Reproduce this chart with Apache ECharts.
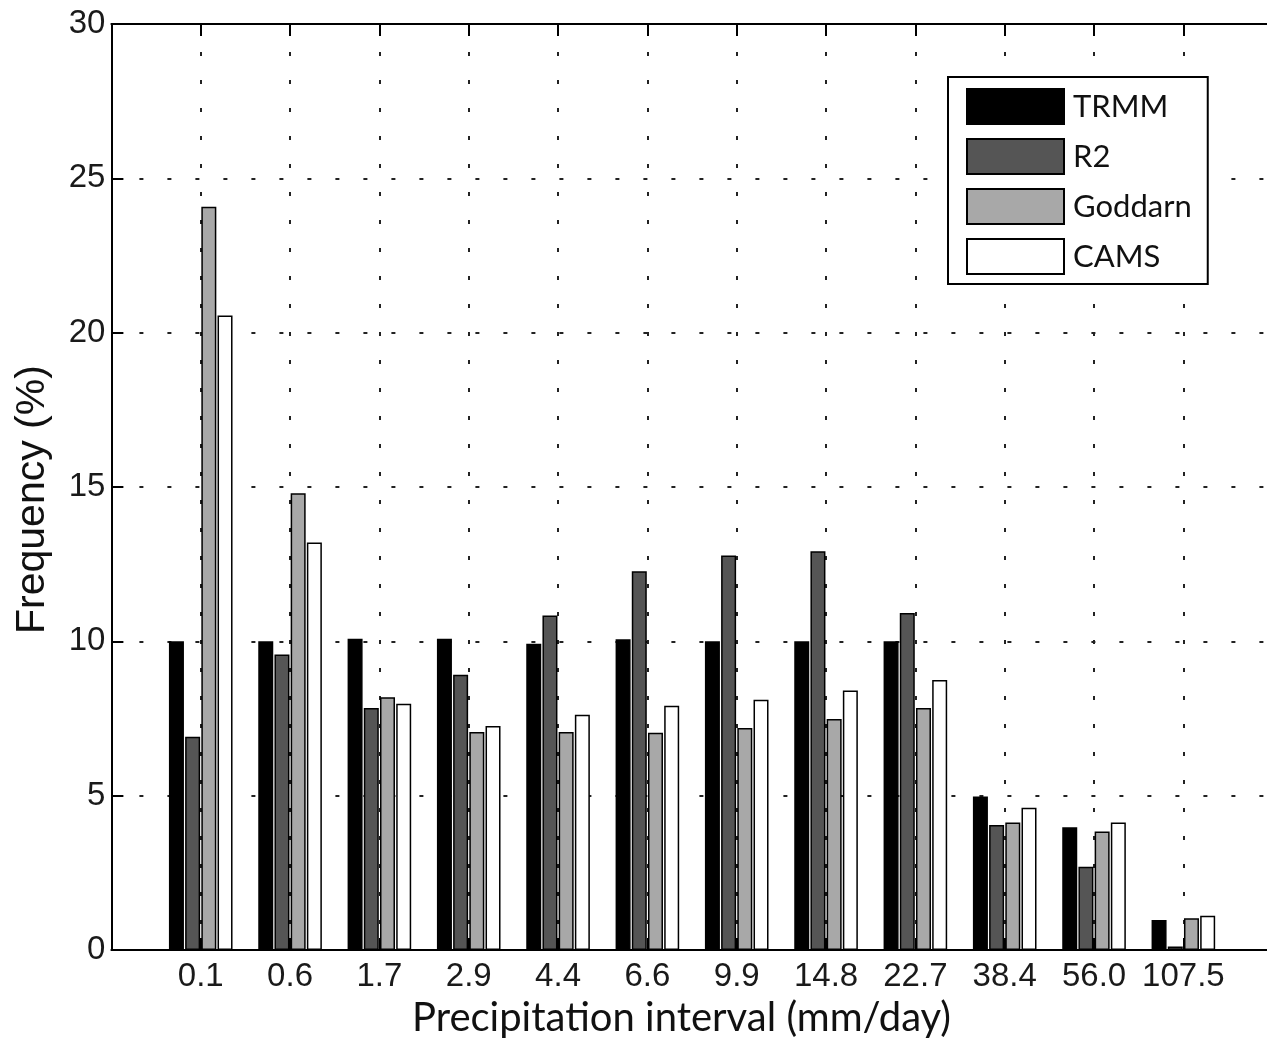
<!DOCTYPE html>
<html>
<head>
<meta charset="utf-8">
<script src="https://cdn.jsdelivr.net/npm/echarts@6/dist/echarts.min.js"></script>
<style>
html,body{margin:0;padding:0;background:#fff;}
#chart{width:1267px;height:1050px;}
</style>
</head>
<body>
<div id="chart"></div>
<script>
const categories = ['0.1','0.6','1.7','2.9','4.4','6.6','9.9','14.8','22.7','38.4','56.0','107.5'];
const seriesNames = ['TRMM','R2','Goddarn','CAMS'];
const trmm    = [10.0, 10.0, 10.08, 10.08, 9.92, 10.07, 10.0, 10.0, 10.0, 4.97, 3.98, 0.97];
const r2      = [6.91, 9.57, 7.84, 8.92, 10.84, 12.27, 12.78, 12.92, 10.92, 4.05, 2.70, 0.11];
const goddarn = [24.08, 14.8, 8.19, 7.06, 7.06, 7.04, 7.19, 7.48, 7.84, 4.13, 3.84, 1.03];
const cams    = [20.56, 13.2, 7.98, 7.26, 7.62, 7.91, 8.11, 8.41, 8.75, 4.61, 4.13, 1.11];
const yTicks = [0, 5, 10, 15, 20, 25, 30];

const values = [trmm, r2, goddarn, cams];
const colors = ['#000000', '#555555', '#a8a8a8', '#ffffff'];

const chart = echarts.init(document.getElementById('chart'));
const gridLine = {show: true, lineStyle: {color: '#222', width: 2, type: [4, 24]}};
const axisFont = {fontFamily: '"Liberation Sans", Arial, sans-serif', fontSize: 33, color: '#1a1a1a'};

const option = {
  backgroundColor: '#fff',
  animation: false,
  grid: {left: 111.4, top: 24, width: 1161.3, height: 926, containLabel: false, outerBoundsMode: 'none'},
  xAxis: [{
    type: 'value', min: 0, max: categories.length + 1, interval: 1, position: 'bottom',
    axisLine: {show: true, onZero: false, lineStyle: {color: '#000', width: 2}},
    axisTick: {show: true, inside: true, length: 12, lineStyle: {color: '#000', width: 2}},
    axisLabel: Object.assign({margin: 10, showMinLabel: false, showMaxLabel: false, formatter: v => (v >= 1 && v <= categories.length) ? categories[v - 1] : ''}, axisFont),
    splitLine: gridLine
  }, {
    type: 'value', min: 0, max: categories.length + 1, interval: 1, position: 'top',
    axisLine: {show: true, onZero: false, lineStyle: {color: '#000', width: 2}},
    axisTick: {show: true, inside: true, length: 12, lineStyle: {color: '#000', width: 2}},
    axisLabel: {show: false},
    splitLine: {show: false}
  }],
  yAxis: [{
    type: 'value', min: yTicks[0], max: yTicks[yTicks.length - 1], interval: 5, position: 'left',
    axisLine: {show: true, onZero: false, lineStyle: {color: '#000', width: 2}},
    axisTick: {show: true, inside: true, length: 12, lineStyle: {color: '#000', width: 2}},
    axisLabel: Object.assign({margin: 6, formatter: v => String(v)}, axisFont),
    splitLine: gridLine
  }],
  legend: {
    orient: 'vertical', left: 948, top: 77,
    backgroundColor: '#fff', borderColor: '#000', borderWidth: 2,
    padding: [11, 16, 9, 18],
    itemWidth: 97, itemHeight: 35, itemGap: 13,
    icon: 'rect',
    itemStyle: {borderColor: '#000', borderWidth: 2},
    textStyle: {fontFamily: 'Lato, "Open Sans", sans-serif', fontSize: 31, color: '#111', padding: [0, 0, 0, 4]},
    data: seriesNames
  },
  graphic: [{
    type: 'text', left: 412, top: 998,
    style: {text: 'Precipitation interval (mm/day)', font: '40px Lato, "Open Sans", sans-serif', fill: '#111'}
  }, {
    type: 'text', x: 12, y: 634, rotation: Math.PI / 2,
    style: {text: 'Frequency (%)', font: '41px "Liberation Sans", Arial, sans-serif', fill: '#111', textBaseline: 'top'}
  }],
  series: seriesNames.map((name, s) => ({
    name: name, type: 'bar',
    barWidth: 15, barGap: '8%',
    itemStyle: {color: colors[s], borderColor: '#000', borderWidth: 1.5},
    data: values[s].map((v, i) => [i + 1, v])
  }))
};
chart.setOption(option);
</script>
</body>
</html>
